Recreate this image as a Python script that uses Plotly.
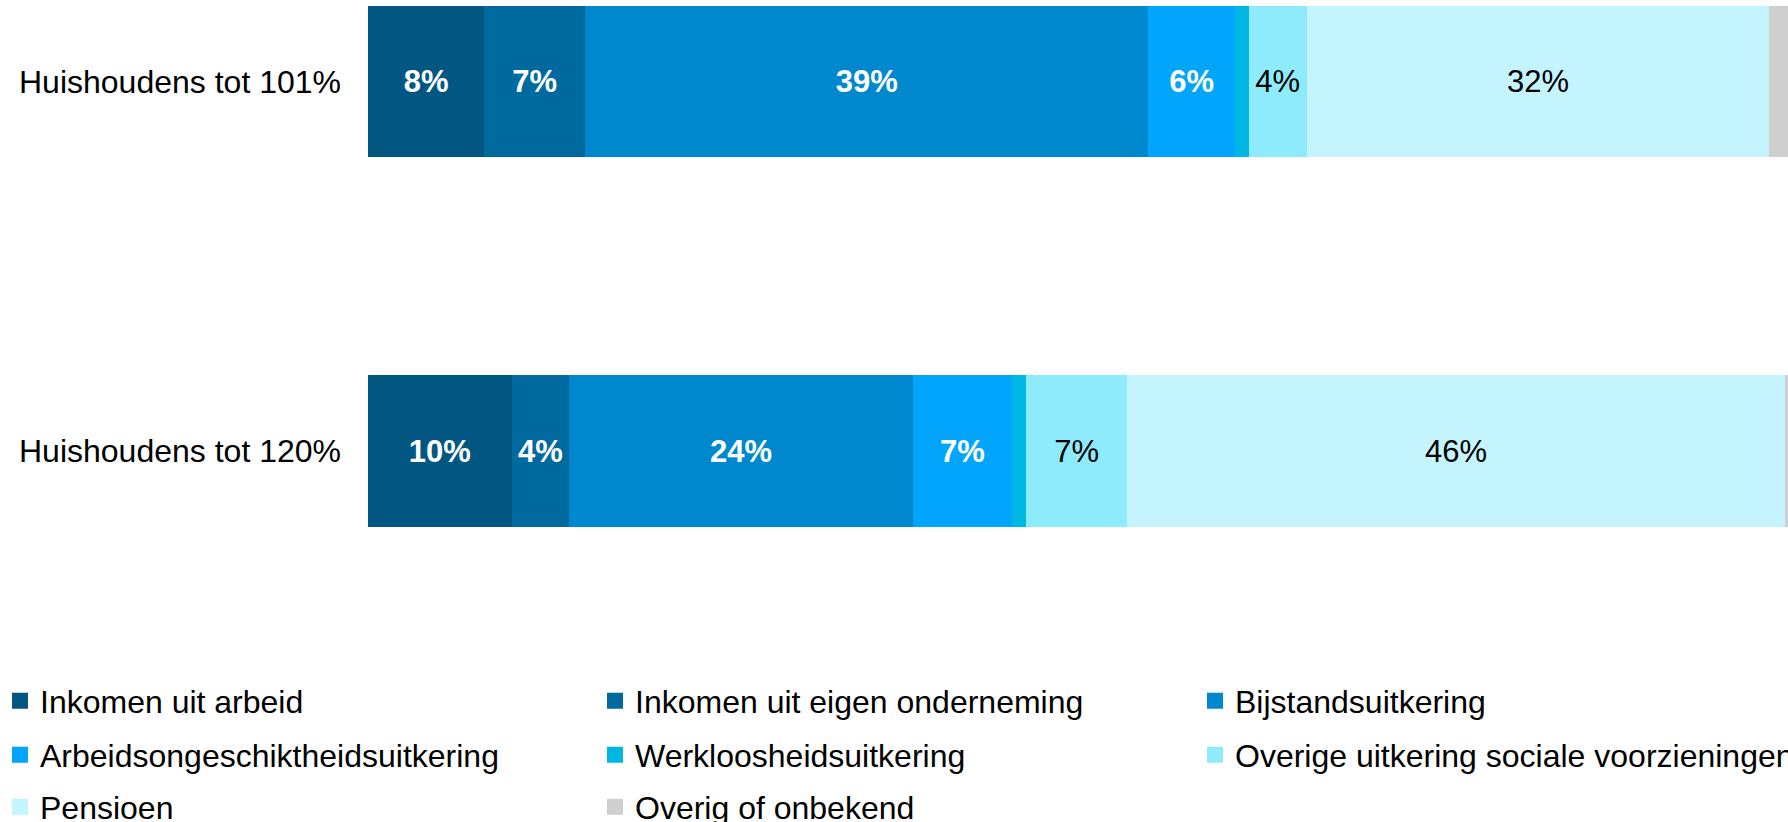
import plotly.graph_objects as go

# ---- data ----
categories = ["Huishoudens tot 101%", "Huishoudens tot 120%"]
series_names = [
    "Inkomen uit arbeid",
    "Inkomen uit eigen onderneming",
    "Bijstandsuitkering",
    "Arbeidsongeschiktheidsuitkering",
    "Werkloosheidsuitkering",
    "Overige uitkering sociale voorzieningen",
    "Pensioen",
    "Overig of onbekend",
]
inkomen_arbeid = [8.1, 10.0]
eigen_onderneming = [7.0, 4.0]
bijstand = [39.2, 23.9]
arbeidsongeschikt = [6.0, 6.9]
werkloosheid = [1.0, 1.0]
overige_uitkering = [4.0, 7.0]
pensioen = [32.2, 45.8]
overig = [2.5, 1.4]

series_values = [inkomen_arbeid, eigen_onderneming, bijstand, arbeidsongeschikt,
                 werkloosheid, overige_uitkering, pensioen, overig]

# ---- styles ----
colors = ["#015781", "#00699E", "#0088CE", "#01A6FC", "#00B8E1", "#8DEBFC", "#C4F4FE", "#D0CFD0"]
show_label = [True, True, True, True, False, True, True, False]
label_white = [True, True, True, True, False, False, False, False]

FONT = "Liberation Sans, Arial, sans-serif"
W, H = 1788, 822

fig = go.Figure()
legend_ids = ["legend"] + [f"legend{i}" for i in range(2, 9)]
for i, (name, vals) in enumerate(zip(series_names, series_values)):
    fig.add_trace(go.Bar(
        name=name,
        y=categories,
        x=vals,
        orientation="h",
        width=0.41,
        marker=dict(color=colors[i], line=dict(width=0)),
        texttemplate="%{x:.0f}%" if show_label[i] else "",
        textposition="inside" if show_label[i] else "none",
        insidetextanchor="middle",
        textangle=0,
        constraintext="none",
        textfont=dict(
            family=FONT,
            size=31,
            color="white" if label_white[i] else "black",
            weight="bold" if label_white[i] else "normal",
        ),
        showlegend=False,
        hoverinfo="skip",
    ))
    # legend entry (square swatch) for this series
    fig.add_trace(go.Scatter(
        name=name,
        x=[None], y=[None],
        mode="markers",
        marker=dict(symbol="square", size=18, color=colors[i], line=dict(width=0)),
        legend=legend_ids[i],
        showlegend=True,
        hoverinfo="skip",
    ))

fig.update_layout(
    width=W, height=H,
    barmode="stack",
    showlegend=True,
    margin=dict(l=368, r=0, t=0, b=262, pad=0),
    paper_bgcolor="white",
    plot_bgcolor="white",
    font=dict(family=FONT, size=32, color="black"),
    xaxis=dict(range=[0, 98.8], visible=False, showgrid=False, zeroline=False, fixedrange=True),
    yaxis=dict(
        type="category",
        categoryorder="array",
        categoryarray=categories,
        range=[1.295, -0.2206],
        showgrid=False, zeroline=False, showline=False, ticks="",
        ticklabelstandoff=26,
        tickfont=dict(family=FONT, size=32, color="black"),
        fixedrange=True,
    ),
)

# legend layout: 3 columns x 3 rows
col_x = [-4, 595, 1195]
row_y = [701, 755, 807]
for i, lid in enumerate(legend_ids):
    r, c = divmod(i, 3)
    fig.update_layout(**{lid: dict(
        xref="container", yref="container",
        x=col_x[c] / W,
        y=1 - row_y[r] / H,
        xanchor="left", yanchor="middle",
        orientation="h",
        bgcolor="rgba(0,0,0,0)",
        borderwidth=0,
        itemwidth=30,
        itemsizing="trace",
        font=dict(family=FONT, size=32, color="black"),
    )})

fig.write_html(
    "out.html",
    config={"displayModeBar": False},
    post_script="document.body.style.margin='0px';",
)
